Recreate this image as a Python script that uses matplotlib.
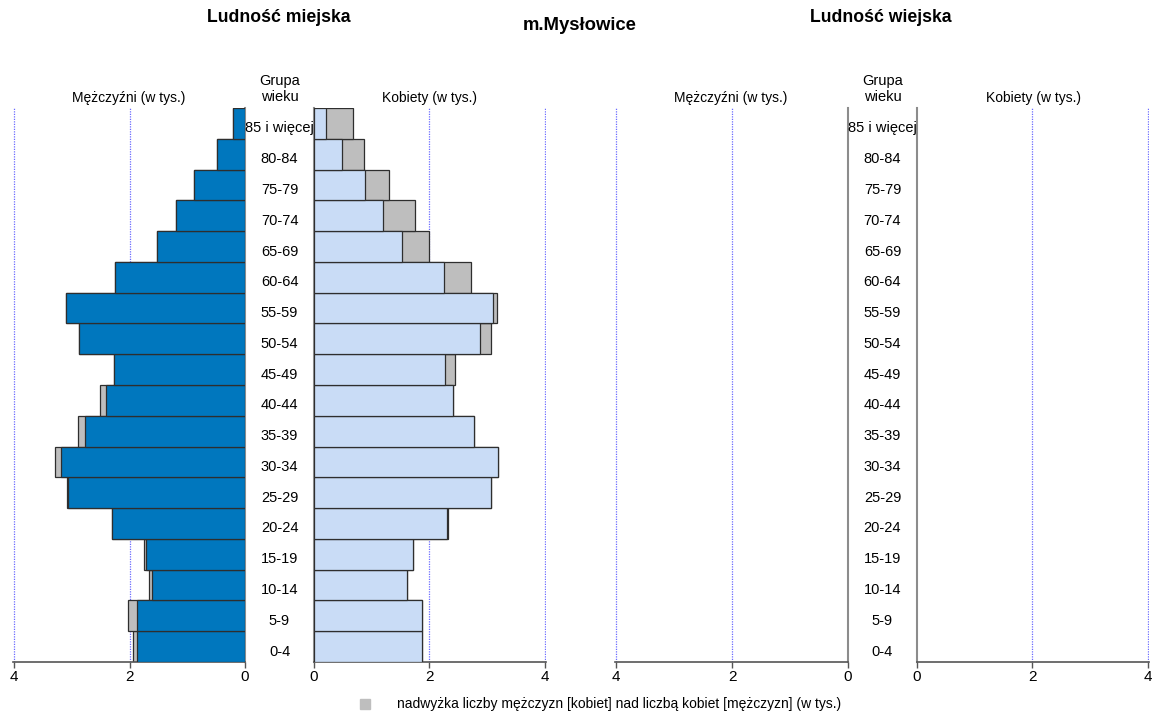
import matplotlib.pyplot as plt
import numpy as np

plt.rcParams['font.family'] = ['Liberation Sans', 'DejaVu Sans']

# grupy wieku od najmlodszej
ages = ['0-4', '5-9', '10-14', '15-19', '20-24', '25-29', '30-34', '35-39', '40-44',
        '45-49', '50-54', '55-59', '60-64', '65-69', '70-74', '75-79', '80-84', '85 i więcej']
# ludnosc miejska (w tys.)
men = [1.94, 2.02, 1.66, 1.75, 2.31, 3.09, 3.30, 2.90, 2.52,
       2.27, 2.87, 3.10, 2.25, 1.52, 1.19, 0.88, 0.49, 0.21]
women = [1.88, 1.88, 1.61, 1.71, 2.33, 3.06, 3.18, 2.78, 2.41,
         2.45, 3.07, 3.17, 2.72, 1.99, 1.75, 1.30, 0.87, 0.68]
ticks = [0, 2, 4]

c_men = '#0077be'
c_women = '#c9dcf6'
c_gray = '#bebebe'
c_edge = '#2e2e2e'

W, H = 1158, 715
fig = plt.figure(figsize=(W / 100, H / 100), dpi=100)

def add_ax(x0, x1):
    top, bot = 108, 662
    return fig.add_axes([x0 / W, (H - bot) / H, (x1 - x0) / W, (bot - top) / H])

def style(ax, side):
    ax.set_xlim((4.02, 0) if side == 'm' else (0, 4.02))
    ax.set_ylim(-0.5, len(ages) - 0.5)
    ax.set_xticks(ticks)
    ax.set_yticks([])
    for s in ['top', 'left', 'right']:
        ax.spines[s].set_visible(False)
    zero = 'right' if side == 'm' else 'left'
    ax.spines[zero].set_visible(True)
    ax.spines[zero].set_color('#8c8c8c')
    ax.spines[zero].set_linewidth(1.5)
    ax.spines['bottom'].set_color('#555555')
    ax.spines['bottom'].set_linewidth(1.2)
    ax.tick_params(axis='x', direction='out', length=4, width=1, color='#555555',
                   labelsize=11, pad=2)
    for t in [2, 4]:
        ax.axvline(t, color='#6b6bff', lw=0.9, ls=(0, (1, 1)), zorder=0)
    ax.patch.set_alpha(0)

y = np.arange(len(ages))
men = np.array(men)
women = np.array(women)
common = np.minimum(men, women)

# ludnosc miejska
axm = add_ax(13, 245)
axm.barh(y, men, height=1, color=c_gray, edgecolor=c_edge, lw=0.9, zorder=2)
axm.barh(y, common, height=1, color=c_men, edgecolor=c_edge, lw=0.9, zorder=3)
style(axm, 'm')

axw = add_ax(314, 546)
axw.barh(y, women, height=1, color=c_gray, edgecolor=c_edge, lw=0.9, zorder=2)
axw.barh(y, common, height=1, color=c_women, edgecolor=c_edge, lw=0.9, zorder=3)
style(axw, 'w')

# ludnosc wiejska - brak danych
axm2 = add_ax(615, 848)
style(axm2, 'm')
axw2 = add_ax(917, 1149)
style(axw2, 'w')

def ft(x, yy, s, **kw):
    fig.text(x / W, 1 - yy / H, s, ha='center', va='center', **kw)

for cx in [279.5, 882.5]:
    for i, a in enumerate(ages):
        yc = 662 - (i + 0.5) * (554 / len(ages)) + 5
        ft(cx, yc, a, fontsize=10.5)
    ft(cx, 81, 'Grupa', fontsize=10.5)
    ft(cx, 97, 'wieku', fontsize=10.5)

ft(279, 17, 'Ludność miejska', fontsize=12.7, fontweight='bold')
ft(881, 17, 'Ludność wiejska', fontsize=12.7, fontweight='bold')
ft(580, 25, 'm.Mysłowice', fontsize=13.3, fontweight='bold')
ft(129, 98, 'Mężczyźni (w tys.)', fontsize=10)
ft(430, 98, 'Kobiety (w tys.)', fontsize=10)
ft(731, 98, 'Mężczyźni (w tys.)', fontsize=10)
ft(1033, 98, 'Kobiety (w tys.)', fontsize=10)

fig.patches.append(plt.Rectangle((360 / W, 1 - 709 / H), 10 / W, 10 / H,
                                 transform=fig.transFigure, color=c_gray))
fig.text(397 / W, 1 - 704 / H, 'nadwyżka liczby mężczyzn [kobiet] nad liczbą kobiet [mężczyzn] (w tys.)',
         ha='left', va='center', fontsize=10)

fig.savefig('out.png', dpi=100)
